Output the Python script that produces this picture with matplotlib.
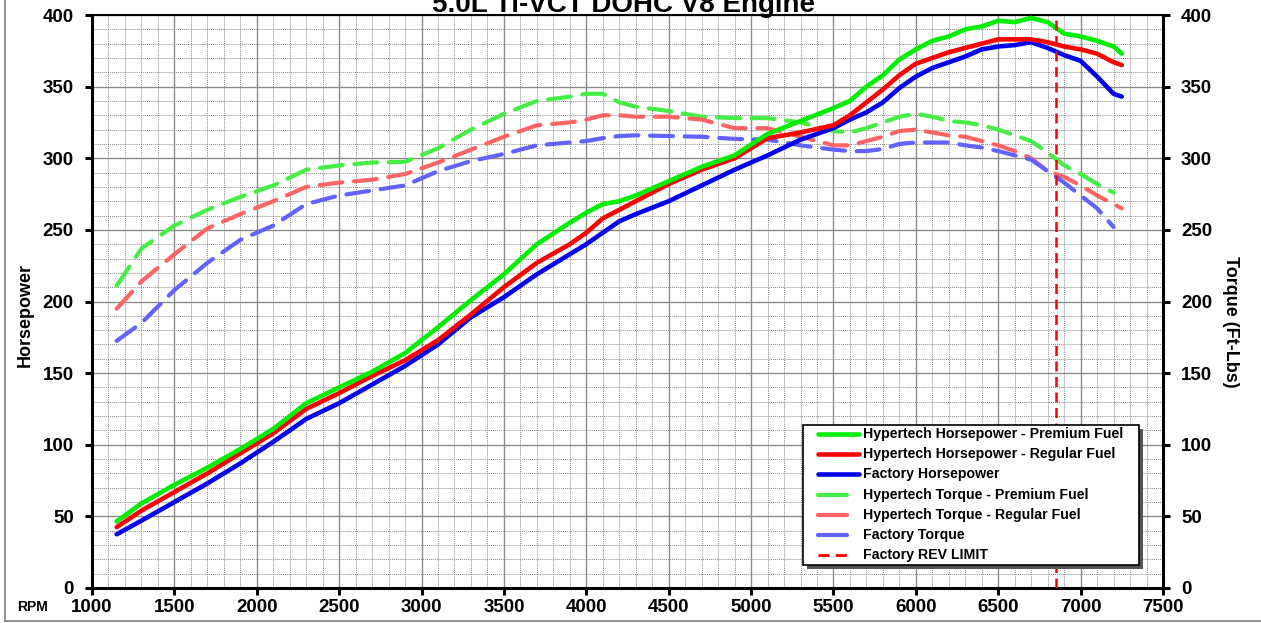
import numpy as np
import matplotlib
matplotlib.use("Agg")
import matplotlib.pyplot as plt
from matplotlib.lines import Line2D
from matplotlib.patches import Rectangle

plt.rcParams['font.family'] = ['Liberation Sans', 'DejaVu Sans']
plt.rcParams['font.weight'] = 'bold'

# rpm sample points
rpm = [1150, 1300, 1500, 1700, 1900, 2100, 2300, 2500, 2700, 2900, 3100, 3300,
       3500, 3700, 3900, 4000, 4100, 4200, 4300, 4500, 4700, 4900, 5100, 5300,
       5500, 5600, 5700, 5800, 5900, 6000, 6100, 6200, 6300, 6400, 6500, 6600,
       6700, 6800, 6900, 7000, 7100, 7200, 7250]

hp_premium = [46.5, 59, 72, 84, 97, 111, 129, 140, 151, 164, 182, 201,
              219, 240, 255, 262, 268, 270, 274, 284, 294, 302, 317, 326,
              335, 340, 350, 358, 369, 376, 382, 385, 390, 392, 396, 395,
              398, 395, 387, 385, 382, 378, 373]
hp_regular = [42.5, 54, 67, 80, 94, 108, 125, 136, 148, 159, 173, 191,
              210, 227, 240, 248, 258, 264, 270, 282, 292, 300, 314, 318,
              323, 330, 339, 348, 358, 366, 370, 374, 377, 380, 383, 383,
              383, 381, 378, 376, 373, 367, 365]
hp_factory = [37.5, 47, 60, 73, 87, 102, 118, 129, 142, 155, 170, 189,
              203, 219, 233, 240, 248, 256, 261, 270, 281, 292, 302, 313,
              321, 327, 332, 339, 349, 357, 363, 367, 371, 376, 378, 379,
              381, 377, 372, 368, 357, 345, 343]

tq_premium = [211, 237, 253, 264, 273, 281, 292, 295, 297, 297.5, 307, 320,
              331, 340, 343, 345, 345, 339, 336, 333, 329, 328, 328, 325,
              319, 318, 321, 325, 329, 331, 329, 326, 325, 323, 320, 316,
              312, 304, 295, 289, 282, 276, np.nan]
tq_regular = [195, 214, 233, 251, 261, 270, 280, 283, 285, 289, 297, 306,
              315, 323, 325, 327, 330, 330, 329, 329, 327, 321, 321, 315,
              309, 309, 312, 315, 319, 320, 318, 316, 315, 312, 309, 305,
              300, 291, 287, 281, 274, 268, 265]
tq_factory = [172.5, 185, 208, 227, 243, 253, 268, 274, 277.5, 281, 291, 298,
              303, 309, 311, 312, 314, 315.5, 316, 315.5, 315, 313.5, 313, 309,
              306, 305, 305, 306.5, 310, 311, 311, 311, 309, 307.5, 305, 302,
              299, 291, 283, 274, 265, 252, np.nan]

rev_limit = 6850

W, H = 1261, 623
fig = plt.figure(figsize=(W / 100, H / 100), dpi=100)
ax = fig.add_axes([92 / W, 1 - 588 / H, (1163 - 92) / W, (588 - 15) / H])

green, red, blue = '#00EE00', '#FF0000', '#0000EE'
lgreen, lred, lblue = '#44EE44', '#FF6464', '#6262FF'

tq_style = dict(lw=3, dashes=(5.5, 2.8), dash_capstyle='round', zorder=3)
ax.plot(rpm, tq_premium, color=lgreen, **tq_style)
ax.plot(rpm, tq_regular, color=lred, **tq_style)
ax.plot(rpm, tq_factory, color=lblue, **tq_style)
ax.plot(rpm, hp_factory, color=blue, lw=3.3, solid_capstyle='round', solid_joinstyle='round', zorder=4)
ax.plot(rpm, hp_regular, color=red, lw=3.3, solid_capstyle='round', solid_joinstyle='round', zorder=4)
ax.plot(rpm, hp_premium, color=green, lw=3.3, solid_capstyle='round', solid_joinstyle='round', zorder=4)
ax.axvline(rev_limit, color=red, lw=1.8, dashes=(4, 2.2), zorder=5)

ax.set_xlim(1000, 7500)
ax.set_ylim(0, 400)
ax.set_xticks(np.arange(1000, 7501, 500))
ax.set_yticks(np.arange(0, 401, 50))
ax.set_xticks(np.arange(1000, 7501, 100), minor=True)
ax.set_yticks(np.arange(0, 401, 10), minor=True)
ax.grid(which='major', color='#8c8c8c', lw=1.0, ls='-', zorder=1)
ax.grid(which='minor', color='#8c8c8c', lw=0.7, ls=(0, (1, 1)), zorder=1)
ax.set_axisbelow(True)

for s in ax.spines.values():
    s.set_linewidth(2.2)
ax.spines['top'].set_linewidth(1.5)

ax.tick_params(which='major', direction='out', length=5, width=2.2, labelsize=13.5)
ax.tick_params(axis='y', which='major', pad=8, right=True, labelright=True)
ax.tick_params(axis='x', which='major', pad=3)
ax.tick_params(which='minor', length=0)
for lab in ax.get_xticklabels() + ax.get_yticklabels():
    lab.set_fontweight('bold')

fig.text(25 / W, 1 - 315 / H, 'Horsepower', rotation=90, ha='center', va='center',
         fontsize=13, fontweight='bold')
fig.text(1230 / W, 1 - 322 / H, 'Torque (Ft-Lbs)', rotation=270, ha='center', va='center',
         fontsize=13, fontweight='bold')
fig.text(32 / W, 1 - 607 / H, 'RPM', ha='center', va='center', fontsize=10, fontweight='bold')
fig.text(623 / W, 1 - 12 / H, '5.0L Ti-VCT DOHC V8 Engine', ha='center', va='baseline',
         fontsize=20, fontweight='bold')

# outer frame of the original sheet
fig.add_artist(Line2D([5 / W, 5 / W], [1 - 621 / H, 1], color='#808080', lw=1.2))
fig.add_artist(Line2D([5 / W, 1], [1 - 621 / H, 1 - 621 / H], color='#808080', lw=1.2))

# legend drawn by hand
lx0, lx1, ly0, ly1 = 803, 1139, 425, 565
fig.add_artist(Rectangle(((lx0 + 4) / W, 1 - (ly1 + 4) / H), (lx1 - lx0) / W, (ly1 - ly0) / H,
                         transform=fig.transFigure, facecolor='#555555', edgecolor='none', zorder=6))
fig.add_artist(Rectangle((lx0 / W, 1 - ly1 / H), (lx1 - lx0) / W, (ly1 - ly0) / H,
                         transform=fig.transFigure, facecolor='white', edgecolor='black', lw=1.2, zorder=7))
entries = [
    ('Hypertech Horsepower - Premium Fuel', green, 3.3, 859, None),
    ('Hypertech Horsepower - Regular Fuel', red, 3.3, 859, None),
    ('Factory Horsepower', blue, 3.3, 859, None),
    ('Hypertech Torque - Premium Fuel', lgreen, 3, 847, None),
    ('Hypertech Torque - Regular Fuel', lred, 3, 847, None),
    ('Factory Torque', lblue, 3, 847, None),
    ('Factory REV LIMIT', red, 2, 852, (4, 2.2)),
]
for i, (label, c, lw, xend, dash) in enumerate(entries):
    y = 1 - (434 + 20.2 * i) / H
    ln = Line2D([818 / W, xend / W], [y, y], color=c, lw=lw, solid_capstyle='round', zorder=8)
    if dash:
        ln.set_dashes(dash)
    fig.add_artist(ln)
    fig.text(863 / W, y, label, ha='left', va='center', fontsize=10.2, fontweight='bold', zorder=8)

fig.savefig('out.png', dpi=100)
